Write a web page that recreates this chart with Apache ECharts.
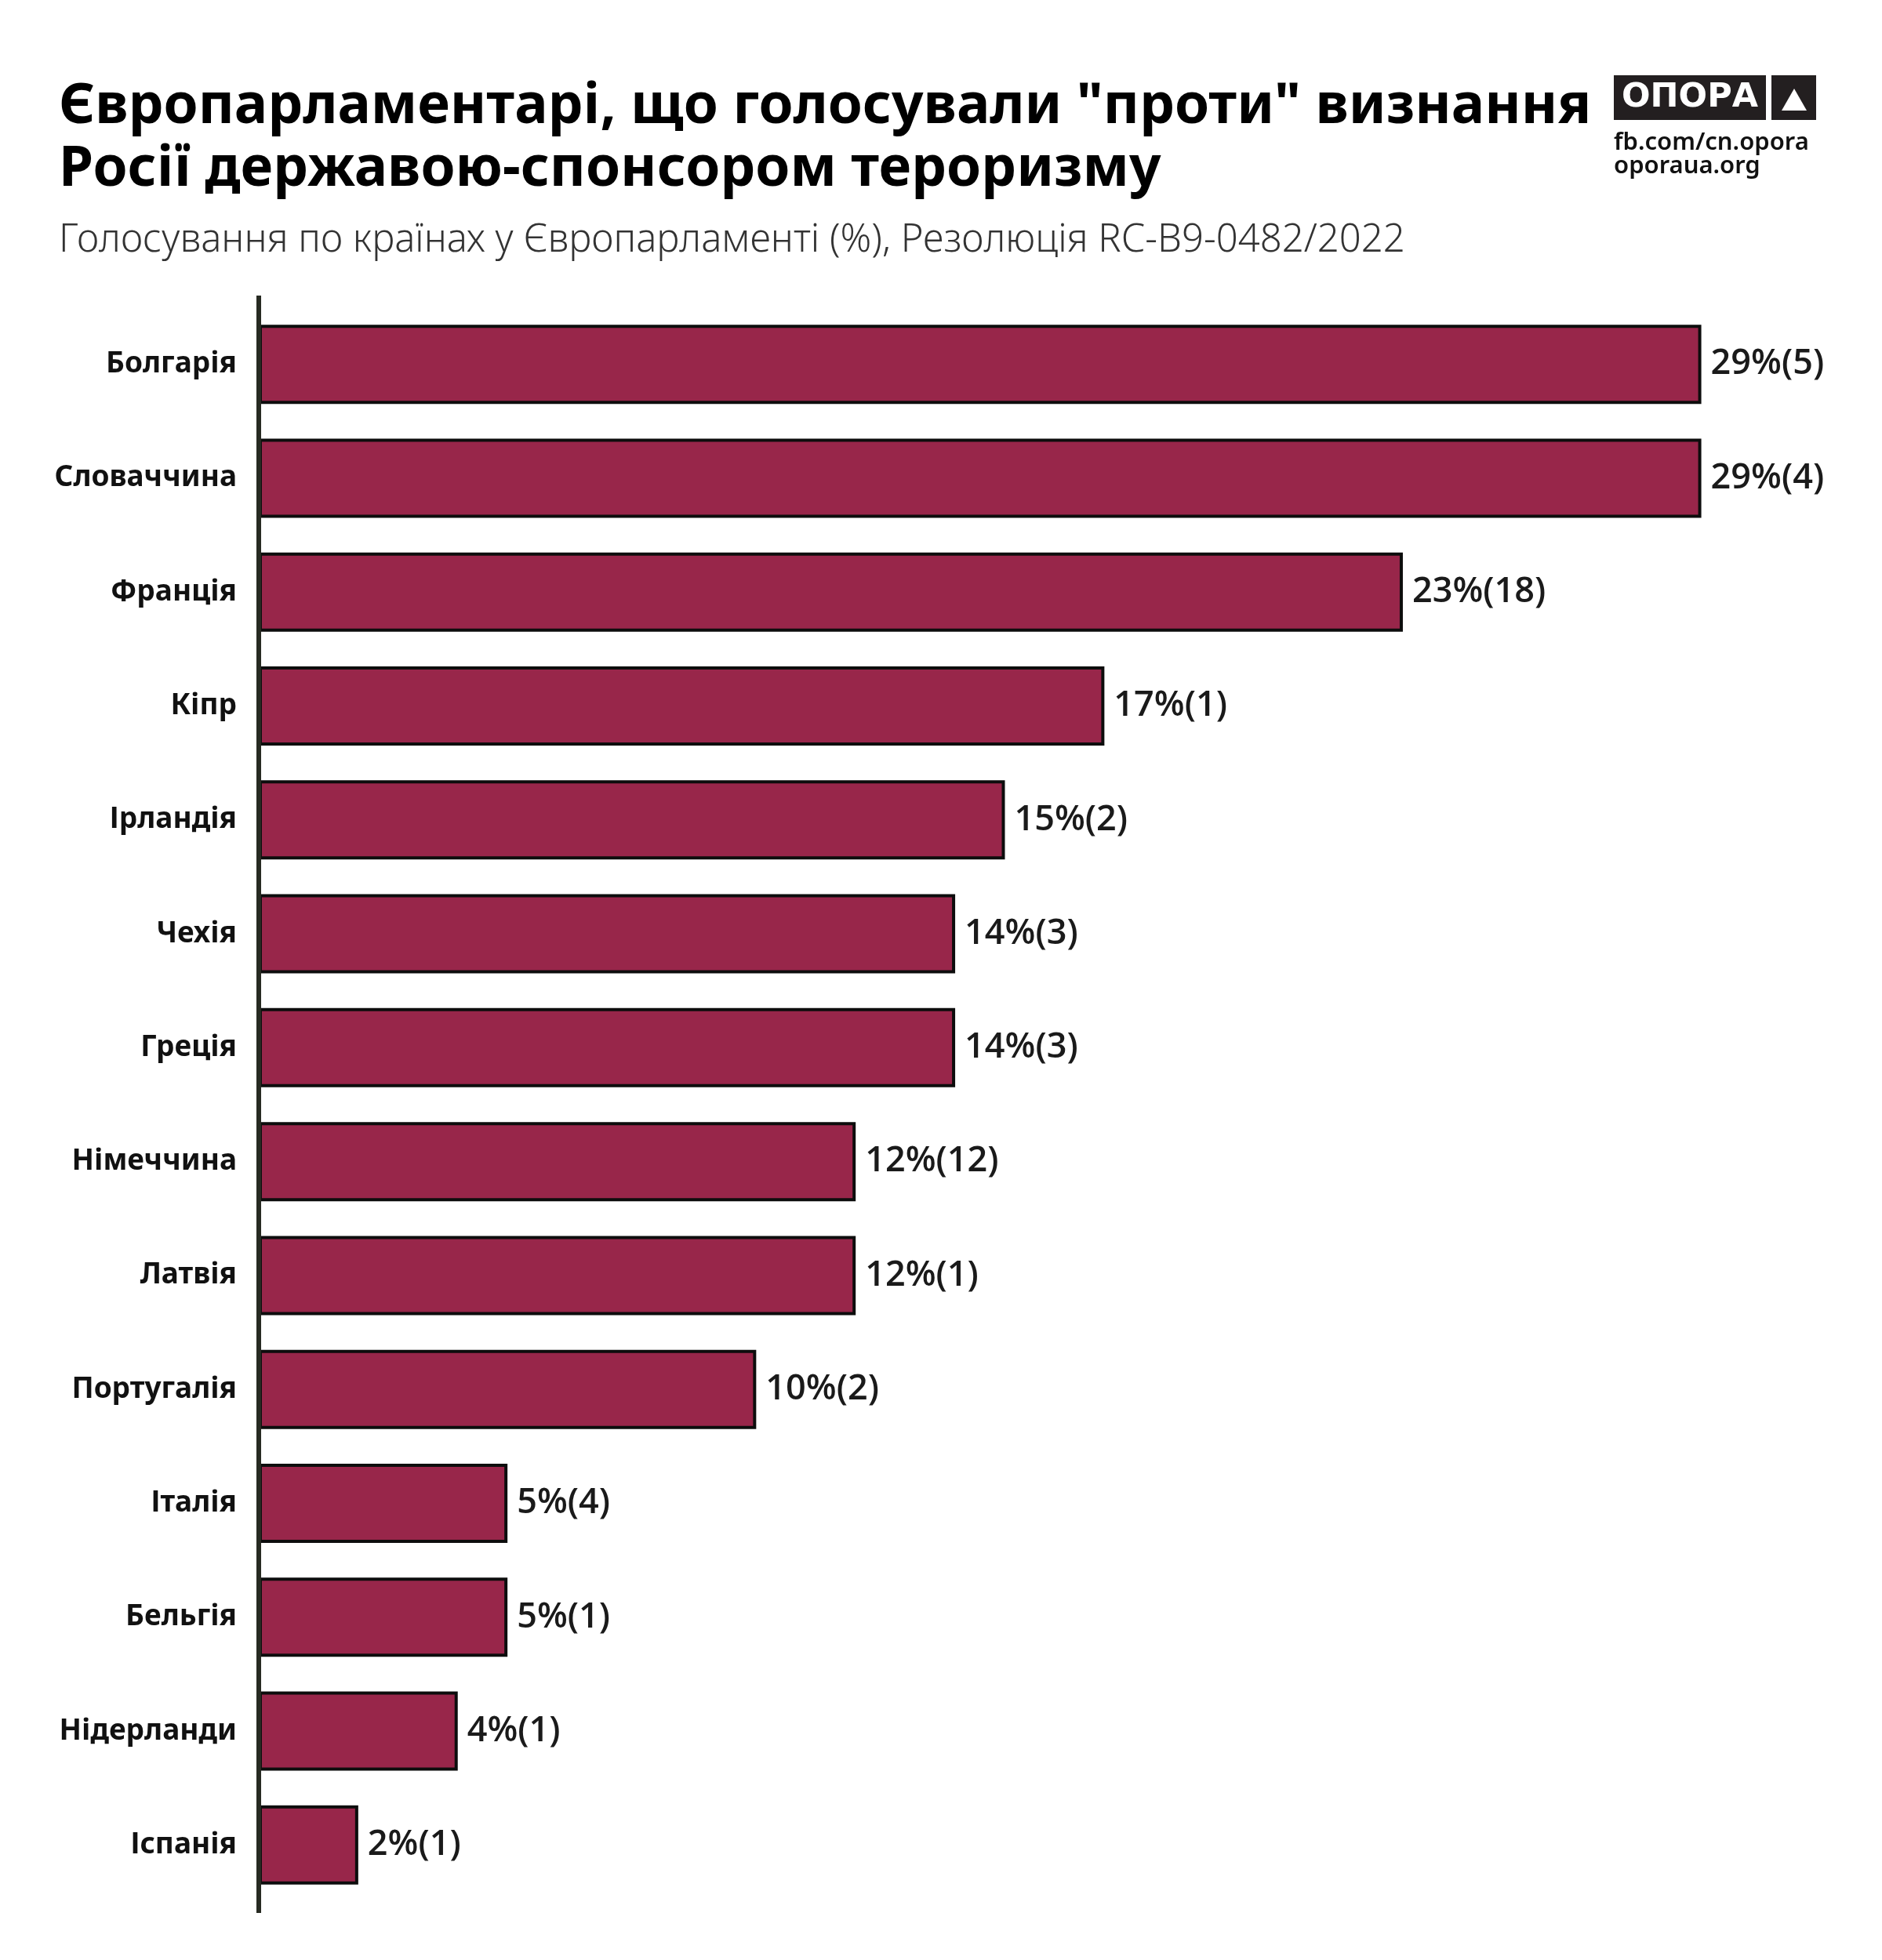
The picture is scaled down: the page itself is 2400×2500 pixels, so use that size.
<!DOCTYPE html>
<html>
<head>
<meta charset="utf-8">
<script src="https://cdn.jsdelivr.net/npm/echarts@6/dist/echarts.min.js"></script>
<style>
html,body{margin:0;padding:0;background:#fff;}
#chart{width:2400px;height:2500px;}
</style>
</head>
<body>
<div id="chart"></div>
<script>
const categories = ['Болгарія','Словаччина','Франція','Кіпр','Ірландія','Чехія','Греція','Німеччина','Латвія','Португалія','Італія','Бельгія','Нідерланди','Іспанія'];
const percentValues = [29,29,23,17,15,14,14,12,12,10,5,5,4,2];
const voteCounts = [5,4,18,1,2,3,3,12,1,2,4,1,1,1];
const titleText = 'Європарламентарі, що голосували "проти" визнання\nРосії державою-спонсором тероризму';
const subtitleText = 'Голосування по країнах у Європарламенті (%), Резолюція RC-B9-0482/2022';

const chart = echarts.init(document.getElementById('chart'));
chart.setOption({
  backgroundColor: '#ffffff',
  animation: false,
  title: [
    {
      text: titleText,
      left: 70, top: 92,
      textStyle: {fontFamily: 'Noto Sans', fontWeight: 'bold', fontSize: 71, lineHeight: 80, color: '#000'}
    },
    {
      text: subtitleText,
      left: 70, top: 278,
      textStyle: {fontFamily: 'Noto Sans', fontWeight: 300, fontSize: 49, color: '#333'}
    }
  ],
  grid: {left: 330, top: 392, height: 2034, right: 167, containLabel: false},
  xAxis: {type: 'value', min: 0, max: 30, show: false},
  yAxis: {
    type: 'category', data: categories, inverse: true,
    axisLine: {show: false},
    axisTick: {show: false},
    axisLabel: {margin: 28, fontFamily: 'Noto Sans', fontWeight: 'bold', fontSize: 37, color: '#111'}
  },
  series: [{
    type: 'bar',
    data: percentValues,
    barWidth: 101,
    itemStyle: {color: '#98264a', borderColor: '#0d0d0d', borderWidth: 4},
    label: {
      show: true, position: 'right', distance: 12,
      fontFamily: 'Open Sans', fontWeight: 600, fontSize: 45, color: '#1a1a1a',
      formatter: p => p.value + '%(' + voteCounts[p.dataIndex] + ')'
    }
  }],
  graphic: [
    {type: 'line', z: 100, shape: {x1: 330, y1: 377, x2: 330, y2: 2440}, style: {stroke: '#272a22', lineWidth: 6}},
    {type: 'rect', shape: {x: 2058, y: 96, width: 194, height: 57}, style: {fill: '#231f20'}},
    {type: 'text', x: 2155, y: 125, style: {text: 'ОПОРА', fill: '#fff', font: 'bold 43px "DejaVu Sans"', textAlign: 'center', textVerticalAlign: 'middle'}},
    {type: 'rect', shape: {x: 2259, y: 96, width: 57, height: 57}, style: {fill: '#231f20'}},
    {type: 'polygon', shape: {points: [[2288,113],[2304,141],[2272,141]]}, style: {fill: '#fff'}},
    {type: 'text', x: 2058, y: 182, style: {text: 'fb.com/cn.opora', fill: '#111', font: '600 31px "Noto Sans"', textVerticalAlign: 'middle'}},
    {type: 'text', x: 2058, y: 212, style: {text: 'oporaua.org', fill: '#111', font: '600 31px "Noto Sans"', textVerticalAlign: 'middle'}}
  ]
});
</script>
</body>
</html>
